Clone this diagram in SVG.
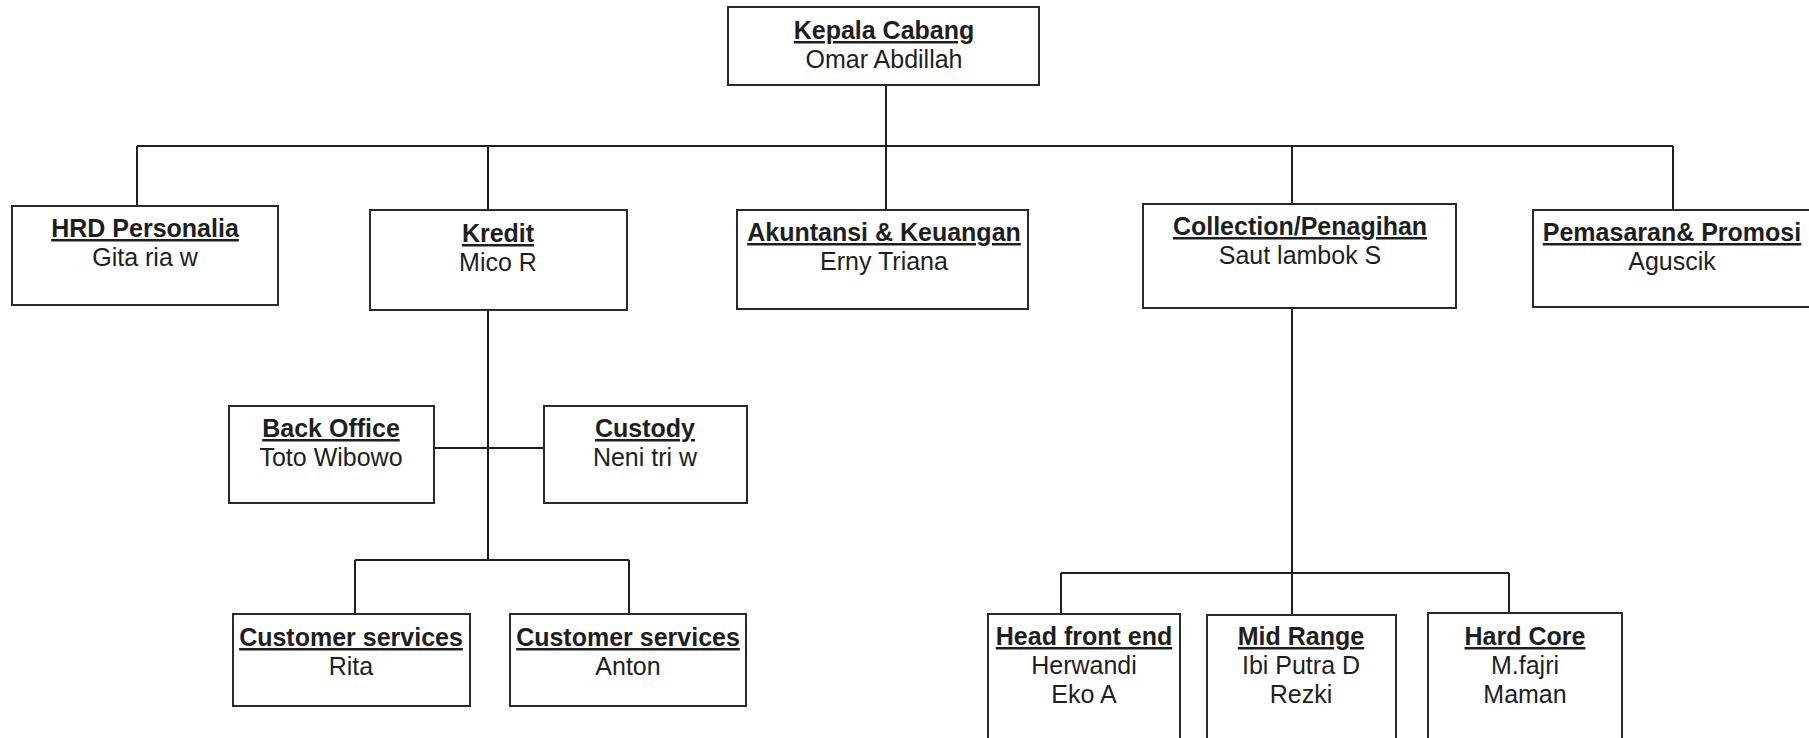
<svg xmlns="http://www.w3.org/2000/svg" width="1809" height="738" viewBox="0 0 1809 738">
<style>
.box{fill:#fff;stroke:#2a2a2a;stroke-width:2}
.t{font-family:"Liberation Sans",Arial,sans-serif;font-size:25px;fill:#1e1e1e;text-anchor:middle}
.h{font-weight:bold;text-decoration:underline;text-decoration-thickness:2px}
.c{stroke:#1e1e1e;stroke-width:2;fill:none}
</style>
<rect width="1809" height="738" fill="#fff"/>
<g id="connectors">
<line class="c" x1="886" y1="85" x2="886" y2="146"/>
<line class="c" x1="137" y1="146" x2="1673" y2="146" stroke-width="2.5"/>
<line class="c" x1="137" y1="146" x2="137" y2="206"/>
<line class="c" x1="488" y1="146" x2="488" y2="210"/>
<line class="c" x1="886" y1="146" x2="886" y2="210"/>
<line class="c" x1="1292" y1="146" x2="1292" y2="204"/>
<line class="c" x1="1673" y1="146" x2="1673" y2="210"/>
<line class="c" x1="488" y1="310" x2="488" y2="560"/>
<line class="c" x1="434" y1="448" x2="544" y2="448"/>
<line class="c" x1="355" y1="560" x2="629" y2="560"/>
<line class="c" x1="355" y1="560" x2="355" y2="614"/>
<line class="c" x1="629" y1="560" x2="629" y2="614"/>
<line class="c" x1="1292" y1="308" x2="1292" y2="615"/>
<line class="c" x1="1061" y1="573" x2="1509" y2="573"/>
<line class="c" x1="1061" y1="573" x2="1061" y2="614"/>
<line class="c" x1="1509" y1="573" x2="1509" y2="613"/>
</g>
<g id="kepala">
<rect class="box" x="728" y="7" width="311" height="78"/>
<text class="t h" x="884" y="39">Kepala Cabang</text>
<text class="t" x="884" y="68">Omar Abdillah</text>
</g>
<g id="hrd">
<rect class="box" x="12" y="206" width="266" height="99"/>
<text class="t h" x="145" y="237">HRD Personalia</text>
<text class="t" x="145" y="266">Gita ria w</text>
</g>
<g id="kredit">
<rect class="box" x="370" y="210" width="257" height="100"/>
<text class="t h" x="498" y="242">Kredit</text>
<text class="t" x="498" y="271">Mico R</text>
</g>
<g id="akuntansi">
<rect class="box" x="737" y="210" width="291" height="99"/>
<text class="t h" x="884" y="241">Akuntansi &amp; Keuangan</text>
<text class="t" x="884" y="270">Erny Triana</text>
</g>
<g id="collection">
<rect class="box" x="1143" y="204" width="313" height="104"/>
<text class="t h" x="1300" y="235">Collection/Penagihan</text>
<text class="t" x="1300" y="264">Saut lambok S</text>
</g>
<g id="pemasaran">
<rect class="box" x="1533" y="210" width="290" height="97"/>
<text class="t h" x="1672" y="241">Pemasaran&amp; Promosi</text>
<text class="t" x="1672" y="270">Aguscik</text>
</g>
<g id="backoffice">
<rect class="box" x="229" y="406" width="205" height="97"/>
<text class="t h" x="331" y="437">Back Office</text>
<text class="t" x="331" y="466">Toto Wibowo</text>
</g>
<g id="custody">
<rect class="box" x="544" y="406" width="203" height="97"/>
<text class="t h" x="645" y="437">Custody</text>
<text class="t" x="645" y="466">Neni tri w</text>
</g>
<g id="cs-rita">
<rect class="box" x="233" y="614" width="237" height="92"/>
<text class="t h" x="351" y="646">Customer services</text>
<text class="t" x="351" y="675">Rita</text>
</g>
<g id="cs-anton">
<rect class="box" x="510" y="614" width="236" height="92"/>
<text class="t h" x="628" y="646">Customer services</text>
<text class="t" x="628" y="675">Anton</text>
</g>
<g id="headfrontend">
<rect class="box" x="988" y="614" width="192" height="140"/>
<text class="t h" x="1084" y="645">Head front end</text>
<text class="t" x="1084" y="674">Herwandi</text>
<text class="t" x="1084" y="703">Eko A</text>
</g>
<g id="midrange">
<rect class="box" x="1207" y="615" width="189" height="140"/>
<text class="t h" x="1301" y="645">Mid Range</text>
<text class="t" x="1301" y="674">Ibi Putra D</text>
<text class="t" x="1301" y="703">Rezki</text>
</g>
<g id="hardcore">
<rect class="box" x="1428" y="613" width="194" height="140"/>
<text class="t h" x="1525" y="645">Hard Core</text>
<text class="t" x="1525" y="674">M.fajri</text>
<text class="t" x="1525" y="703">Maman</text>
</g>
</svg>
